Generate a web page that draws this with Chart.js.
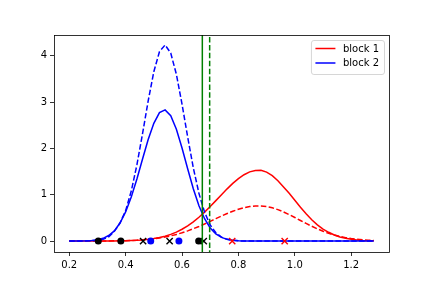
<!DOCTYPE html>
<html>
<head>
<meta charset="utf-8">
<script src="https://cdn.jsdelivr.net/npm/chart.js@4/dist/chart.umd.min.js"></script>
<style>
    html, body { margin: 0; padding: 0; background: #fff; }
</style>
</head>
<body>
<canvas id="chart" width="432" height="288"></canvas>
<script>
    // ---- data ----
    var xs = [0.20, 0.22, 0.24, 0.26, 0.28, 0.30, 0.32, 0.34, 0.36, 0.38,
              0.40, 0.42, 0.44, 0.46, 0.48, 0.50, 0.52, 0.54, 0.56, 0.58,
              0.60, 0.62, 0.64, 0.66, 0.68, 0.70, 0.72, 0.74, 0.76, 0.78,
              0.80, 0.82, 0.84, 0.86, 0.88, 0.90, 0.92, 0.94, 0.96, 0.98,
              1.00, 1.02, 1.04, 1.06, 1.08, 1.10, 1.12, 1.14, 1.16, 1.18,
              1.20, 1.22, 1.24, 1.26, 1.28];

    var block1Solid = [0, 0, 0, 0, 0, 0.001, 0.001, 0.002, 0.003, 0.005,
                       0.007, 0.011, 0.017, 0.026, 0.038, 0.054, 0.076, 0.106, 0.145, 0.194,
                       0.256, 0.330, 0.416, 0.514, 0.625, 0.746, 0.873, 1.002, 1.127, 1.244,
                       1.347, 1.432, 1.493, 1.524, 1.527, 1.489, 1.412, 1.303, 1.169, 1.030,
                       0.880, 0.730, 0.590, 0.460, 0.350, 0.260, 0.190, 0.133, 0.090, 0.060,
                       0.039, 0.025, 0.015, 0.009, 0.005];

    var block1Dashed = [0, 0, 0, 0.001, 0.001, 0.001, 0.002, 0.003, 0.005, 0.007,
                        0.010, 0.014, 0.020, 0.028, 0.038, 0.051, 0.068, 0.088, 0.114, 0.144,
                        0.179, 0.220, 0.266, 0.316, 0.370, 0.427, 0.484, 0.541, 0.595, 0.644,
                        0.687, 0.721, 0.745, 0.758, 0.759, 0.746, 0.718, 0.679, 0.629, 0.571,
                        0.509, 0.445, 0.381, 0.320, 0.264, 0.213, 0.169, 0.131, 0.100, 0.075,
                        0.055, 0.039, 0.028, 0.019, 0.013];

    var block2Solid = [0, 0.001, 0.002, 0.005, 0.013, 0.030, 0.060, 0.120, 0.220, 0.390,
                       0.630, 0.950, 1.340, 1.770, 2.190, 2.540, 2.770, 2.830, 2.703, 2.411,
                       2.007, 1.559, 1.130, 0.764, 0.482, 0.284, 0.156, 0.080, 0.038, 0.017,
                       0.007, 0.003, 0.001, 0, 0, 0, 0, 0, 0, 0,
                       0, 0, 0, 0, 0, 0, 0, 0, 0, 0,
                       0, 0, 0, 0, 0];

    var block2Dashed = [0, 0, 0.001, 0.002, 0.007, 0.017, 0.041, 0.093, 0.210, 0.390,
                        0.656, 1.079, 1.644, 2.317, 3.024, 3.653, 4.085, 4.230, 4.054, 3.597,
                        2.954, 2.247, 1.581, 1.030, 0.622, 0.347, 0.179, 0.086, 0.038, 0.016,
                        0.006, 0.002, 0.001, 0, 0, 0, 0, 0, 0, 0,
                        0, 0, 0, 0, 0, 0, 0, 0, 0, 0,
                        0, 0, 0, 0, 0];

    var blackDotsX = [0.303, 0.383, 0.659];
    var blueDotsX = [0.489, 0.589];
    var blackCrossX = [0.462, 0.556, 0.677];
    var redCrossX = [0.778, 0.964];
    var splitSolidX = 0.672;
    var splitDashedX = 0.698;

    var xTicks = [0.2, 0.4, 0.6, 0.8, 1.0, 1.2];
    var yTicks = [0, 1, 2, 3, 4];

    // ---- helpers ----
    function curve(ys) {
        return xs.map(function (x, i) { return { x: x, y: ys[i] }; });
    }
    function onAxis(list) {
        return list.map(function (x) { return { x: x, y: 0 }; });
    }
    function vline(x) {
        return [{ x: x, y: -1 }, { x: x, y: 6 }];
    }

    var DASH = [5.5, 2.4];

    function lineSet(label, data, color, dashed, inLegend) {
        return {
            label: label,
            data: data,
            borderColor: color,
            backgroundColor: color,
            borderWidth: 1.5,
            borderDash: dashed ? DASH : [],
            pointRadius: 0,
            tension: 0,
            fill: false,
            inLegend: inLegend
        };
    }
    function markSet(label, data, color, style) {
        var cross = style === 'crossRot';
        return {
            label: label,
            data: data,
            showLine: false,
            pointStyle: style,
            pointRadius: cross ? 4.4 : 3.5,
            pointBorderWidth: cross ? 1.4 : 0,
            pointBorderColor: color,
            pointBackgroundColor: color,
            borderColor: color,
            backgroundColor: color
        };
    }

    var datasets = [
        lineSet('block 1', curve(block1Solid), '#ff0000', false, true),
        lineSet('block 1 dashed', curve(block1Dashed), '#ff0000', true, false),
        lineSet('block 2', curve(block2Solid), '#0000ff', false, true),
        lineSet('block 2 dashed', curve(block2Dashed), '#0000ff', true, false),
        markSet('black o', onAxis(blackDotsX), '#000000', 'circle'),
        markSet('blue o', onAxis(blueDotsX), '#0000ff', 'circle'),
        markSet('black x', onAxis(blackCrossX), '#000000', 'crossRot'),
        markSet('red x', onAxis(redCrossX), '#ff0000', 'crossRot'),
        lineSet('split', vline(splitSolidX), '#008000', false, false),
        lineSet('split dashed', vline(splitDashedX), '#008000', true, false)
    ];
    // later datasets on top, like matplotlib
    datasets.forEach(function (d, i) { d.order = datasets.length - i; });

    // ---- frame + legend drawn on the canvas ----
    var framePlugin = {
        id: 'frame',
        afterDatasetsDraw: function (chart) {
            var a = chart.chartArea, ctx = chart.ctx;
            ctx.save();
            ctx.strokeStyle = '#000';
            ctx.lineWidth = 0.8;
            ctx.strokeRect(a.left + 0.5, a.top + 0.5, a.right - a.left, a.bottom - a.top);
            ctx.restore();
        },
        afterDraw: function (chart) {
            var a = chart.chartArea, ctx = chart.ctx;
            var items = chart.data.datasets.filter(function (d) { return d.inLegend; });
            ctx.save();
            ctx.font = '10px "DejaVu Sans"';
            var textW = 0;
            items.forEach(function (d) { textW = Math.max(textW, ctx.measureText(d.label).width); });
            var pad = 4, handle = 20, gap = 8, rowH = 14.5;
            var w = pad + handle + gap + textW + pad + 1;
            var h = pad * 2 + rowH * items.length - 3;
            var right = a.right - 5, top = a.top + 5;
            var left = right - w;

            ctx.beginPath();
            ctx.roundRect(left + 0.5, top + 0.5, w, h, 2.5);
            ctx.fillStyle = 'rgba(255,255,255,0.8)';
            ctx.fill();
            ctx.strokeStyle = '#d6d6d6';
            ctx.lineWidth = 1;
            ctx.stroke();

            items.forEach(function (d, i) {
                var cy = top + pad + 4 + rowH * i + 0.5;
                ctx.beginPath();
                ctx.moveTo(left + pad + 0.5, cy);
                ctx.lineTo(left + pad + handle + 0.5, cy);
                ctx.strokeStyle = d.borderColor;
                ctx.lineWidth = 1.5;
                ctx.stroke();
                ctx.fillStyle = '#000';
                ctx.textBaseline = 'middle';
                ctx.textAlign = 'left';
                ctx.fillText(d.label, left + pad + handle + gap, cy + 0.5);
            });
            ctx.restore();
        }
    };

    Chart.defaults.font.family = '"DejaVu Sans", sans-serif';
    Chart.defaults.font.size = 10;
    Chart.defaults.color = '#000';

    new Chart(document.getElementById('chart'), {
        type: 'line',
        data: { datasets: datasets },
        plugins: [framePlugin],
        options: {
            responsive: false,
            animation: false,
            devicePixelRatio: 1,
            layout: { padding: { top: 35, right: 43, left: 0, bottom: 0 } },
            plugins: {
                legend: { display: false },
                tooltip: { enabled: false }
            },
            scales: {
                x: {
                    type: 'linear',
                    min: 0.146,
                    max: 1.334,
                    afterBuildTicks: function (s) { s.ticks = xTicks.map(function (v) { return { value: v }; }); },
                    afterFit: function (s) { s.height = 36; },
                    ticks: {
                        autoSkip: false,
                        maxRotation: 0,
                        padding: 3,
                        callback: function (v) { return Number(v).toFixed(1); }
                    },
                    grid: { display: true, drawOnChartArea: false, drawTicks: true, tickLength: 4, lineWidth: 0.8, color: '#000' },
                    border: { display: false }
                },
                y: {
                    type: 'linear',
                    min: -0.235,
                    max: 4.445,
                    afterBuildTicks: function (s) { s.ticks = yTicks.map(function (v) { return { value: v }; }); },
                    afterFit: function (s) { s.width = 54; },
                    ticks: {
                        autoSkip: false,
                        padding: 3,
                        callback: function (v) { return String(v); }
                    },
                    grid: { display: true, drawOnChartArea: false, drawTicks: true, tickLength: 4, lineWidth: 0.8, color: '#000' },
                    border: { display: false }
                }
            }
        }
    });
</script>
</body>
</html>
